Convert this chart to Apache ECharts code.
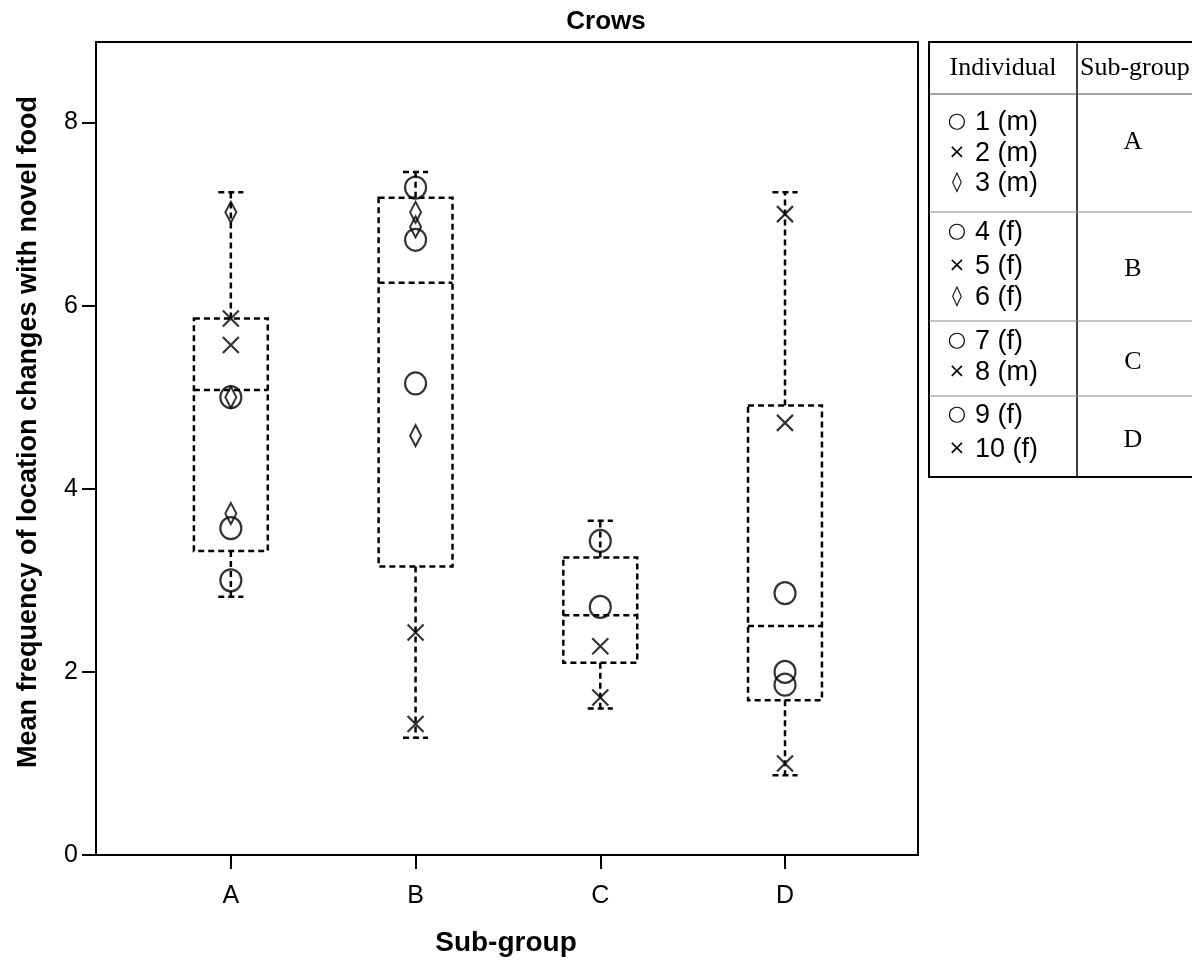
<!DOCTYPE html>
<html>
<head>
<meta charset="utf-8">
<script src="https://cdn.jsdelivr.net/npm/echarts@6/dist/echarts.min.js"></script>
<style>html,body{margin:0;padding:0;background:#fff;}#c{width:1192px;height:962px;}</style>
</head>
<body>
<div id="c"></div>
<script>
// ---- data ----
const categories = ['A', 'B', 'C', 'D'];
const yTicks = [0, 2, 4, 6, 8];
// [whiskerLow, Q1, median, Q3, whiskerHigh]
const boxA = [2.82, 3.32, 5.08, 5.86, 7.24];
const boxB = [1.28, 3.15, 6.25, 7.18, 7.46];
const boxC = [1.60, 2.10, 2.62, 3.25, 3.65];
const boxD = [0.87, 1.69, 2.50, 4.91, 7.24];
// individual points per sub-group (circle = first, cross = second, diamond = third individual)
const circleA = [5.00, 3.57, 3.00];
const circleB = [7.29, 6.72, 5.15];
const circleC = [3.43, 2.71];
const circleD = [2.86, 2.00, 1.86];
const crossA = [5.86, 5.57];
const crossB = [2.43, 1.43];
const crossC = [2.28, 1.72];
const crossD = [7.00, 4.72, 1.00];
const diamondA = [7.02, 5.00, 3.73];
const diamondB = [7.02, 6.86, 4.58];
const legendSymbols = ['\u25CB', '\u00D7', '\u25CA'];
const legendRows = [
  {group: 'A', items: ['1 (m)', '2 (m)', '3 (m)']},
  {group: 'B', items: ['4 (f)', '5 (f)', '6 (f)']},
  {group: 'C', items: ['7 (f)', '8 (m)']},
  {group: 'D', items: ['9 (f)', '10 (f)']}
];

// ---- build ----
const boxes = [boxA, boxB, boxC, boxD].map((b, i) => [i + 1].concat(b));
function pts(groups) {
  const out = [];
  groups.forEach((arr, i) => arr.forEach(v => out.push([i + 1, v])));
  return out;
}
const circles = pts([circleA, circleB, circleC, circleD]);
const crosses = pts([crossA, crossB, crossC, crossD]);
const diamonds = pts([diamondA, diamondB]);

const BOLD = "'Liberation Sans', Arial, sans-serif";
const SANS = "'Liberation Sans', Arial, sans-serif";
const SERIF = "'Liberation Serif', 'Times New Roman', serif";
const dash = [6, 4];

const chart = echarts.init(document.getElementById('c'), null, {renderer: 'canvas'});

// legend table graphics
const tbl = {left: 929, top: 42, right: 1195, bottom: 477, mid: 1077};
const rowLines = [94, 212, 321, 396];
const itemY = [[122, 153, 183], [232, 266, 297], [341, 372], [415, 449]];
const groupY = [142, 269, 362, 440];
const graphics = [];
graphics.push({type: 'rect', shape: {x: tbl.left, y: tbl.top, width: tbl.right - tbl.left, height: tbl.bottom - tbl.top},
  style: {fill: 'none', stroke: '#000', lineWidth: 2}});
graphics.push({type: 'line', shape: {x1: tbl.mid, y1: tbl.top, x2: tbl.mid, y2: tbl.bottom}, style: {stroke: '#000', lineWidth: 1.5}});
rowLines.forEach((y, i) => graphics.push({type: 'line', shape: {x1: tbl.left, y1: y, x2: tbl.right, y2: y},
  style: {stroke: i === 0 ? '#444' : '#888', lineWidth: 1}}));
graphics.push({type: 'text', x: 1003, y: 68, style: {text: 'Individual', font: '26px ' + SERIF, fill: '#000', textAlign: 'center', textVerticalAlign: 'middle'}});
graphics.push({type: 'text', x: 1080, y: 68, style: {text: 'Sub-group', font: '26px ' + SERIF, fill: '#000', textAlign: 'left', textVerticalAlign: 'middle'}});
legendRows.forEach((r, i) => {
  r.items.forEach((t, j) => {
    graphics.push({type: 'text', x: 957, y: itemY[i][j],
      style: {text: legendSymbols[j], font: (j === 0 ? '21px ' : '20px ') + "'DejaVu Sans', sans-serif", fill: '#000', textVerticalAlign: 'middle', textAlign: 'center'}});
    graphics.push({type: 'text', x: 975, y: itemY[i][j] + 1,
      style: {text: t, font: '27px ' + SANS, fill: '#000', textVerticalAlign: 'middle', textAlign: 'left'}});
  });
  graphics.push({type: 'text', x: 1133, y: groupY[i],
    style: {text: r.group, font: '26px ' + SERIF, fill: '#000', textVerticalAlign: 'middle', textAlign: 'center'}});
});
// title and axis titles
graphics.push({type: 'text', x: 606, y: 22, style: {text: 'Crows', font: 'bold 26px ' + BOLD, fill: '#000', textAlign: 'center', textVerticalAlign: 'middle'}});
graphics.push({type: 'text', x: 506, y: 943, style: {text: 'Sub-group', font: 'bold 28px ' + BOLD, fill: '#000', textAlign: 'center', textVerticalAlign: 'middle'}});
graphics.push({type: 'text', x: 29, y: 432, rotation: Math.PI / 2,
  style: {text: 'Mean frequency of location changes with novel food', font: 'bold 27px ' + BOLD, fill: '#000', textAlign: 'center', textVerticalAlign: 'middle'}});

const symStyle = {color: 'rgba(0,0,0,0)', borderColor: '#000', borderWidth: 2.2};

chart.setOption({
  animation: false,
  backgroundColor: '#fff',
  grid: {left: 96, right: 274, top: 42, bottom: 107, show: true, borderColor: '#000', borderWidth: 2, backgroundColor: 'transparent'},
  xAxis: {
    type: 'value', min: 0.27, max: 4.72,
    splitLine: {show: false},
    axisLine: {show: true, lineStyle: {color: '#000', width: 2}},
    axisTick: {show: true, length: 14, lineStyle: {color: '#000', width: 2}, customValues: [1, 2, 3, 4]},
    axisLabel: {customValues: [1, 2, 3, 4], formatter: v => categories[Math.round(v) - 1], color: '#000', fontSize: 25, fontFamily: SANS, margin: 29}
  },
  yAxis: {
    type: 'value', min: 0, max: 8.88,
    splitLine: {show: false},
    axisLine: {show: true, lineStyle: {color: '#000', width: 2}},
    axisTick: {show: true, length: 14, lineStyle: {color: '#000', width: 2}, customValues: yTicks},
    axisLabel: {customValues: yTicks, color: '#000', fontSize: 25, fontFamily: SANS, margin: 18}
  },
  graphic: graphics,
  series: [
    {
      type: 'custom',
      data: boxes,
      encode: {x: 0, y: [1, 2, 3, 4, 5]},
      renderItem: function (params, api) {
        const x = api.value(0);
        const lo = api.coord([x, api.value(1)]);
        const q1 = api.coord([x, api.value(2)]);
        const md = api.coord([x, api.value(3)]);
        const q3 = api.coord([x, api.value(4)]);
        const hi = api.coord([x, api.value(5)]);
        const hw = api.size([0.2, 0])[0];
        const cw = api.size([0.068, 0])[0];
        const st = {stroke: '#000', lineWidth: 2.5, lineDash: dash, fill: 'none'};
        const cx = q1[0];
        return {
          type: 'group',
          children: [
            {type: 'rect', shape: {x: cx - hw, y: q3[1], width: hw * 2, height: q1[1] - q3[1]}, style: st},
            {type: 'line', shape: {x1: cx - hw, y1: md[1], x2: cx + hw, y2: md[1]}, style: st},
            {type: 'line', shape: {x1: cx, y1: q3[1], x2: cx, y2: hi[1]}, style: st},
            {type: 'line', shape: {x1: cx, y1: q1[1], x2: cx, y2: lo[1]}, style: st},
            {type: 'line', shape: {x1: cx - cw, y1: hi[1], x2: cx + cw, y2: hi[1]}, style: st},
            {type: 'line', shape: {x1: cx - cw, y1: lo[1], x2: cx + cw, y2: lo[1]}, style: st}
          ]
        };
      },
      z: 2
    },
    {type: 'scatter', data: circles, symbol: 'circle', symbolSize: [21, 22], itemStyle: symStyle, z: 3},
    {type: 'scatter', data: crosses, symbol: 'path://M0,0L10,10M10,0L0,10', symbolSize: 16, itemStyle: symStyle, z: 3},
    {type: 'scatter', data: diamonds, symbol: 'diamond', symbolSize: [11, 21], itemStyle: symStyle, z: 3}
  ]
});
</script>
</body>
</html>
